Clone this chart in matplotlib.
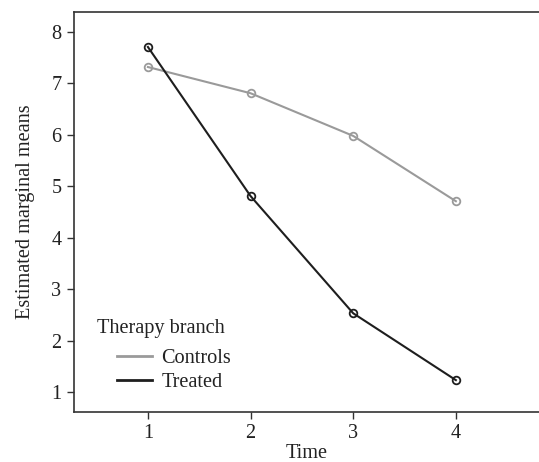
import matplotlib
matplotlib.use('Agg')
import matplotlib.pyplot as plt

# data
time = [1, 2, 3, 4]
controls = [7.32, 6.81, 5.98, 4.71]
treated = [7.71, 4.81, 2.53, 1.23]
yticks = [1, 2, 3, 4, 5, 6, 7, 8]

plt.rcParams['font.family'] = ['Liberation Serif', 'DejaVu Serif']
plt.rcParams['font.size'] = 14.6

fig = plt.figure(figsize=(5.39, 4.62), dpi=100)
ax = fig.add_axes([74 / 539, 50 / 462, 1 - 74 / 539, 400 / 462])

ax.plot(time, controls, color='#9a9a9a', lw=1.5, marker='o', ms=5.5,
        mfc='none', mew=1.3, label='Controls')
ax.plot(time, treated, color='#1e1e1e', lw=1.5, marker='o', ms=5.5,
        mfc='none', mew=1.3, label='Treated')

ax.set_xlim(0.28, 4.81)
ax.set_ylim(0.61, 8.39)
ax.set_xticks(time)
ax.set_yticks(yticks)
ax.spines['right'].set_visible(False)
for s in ['left', 'bottom', 'top']:
    ax.spines[s].set_color('#333333')
    ax.spines[s].set_linewidth(1.2)
ax.tick_params(length=5, width=1, color='#333333', labelcolor='#222222', pad=4)

ax.set_xlabel('Time', color='#222222', labelpad=0)
ax.set_ylabel('Estimated marginal means', color='#222222', labelpad=12)

# legend title drawn separately so the entries sit indented under it
ax.text(23 / 465, 0.2075, 'Therapy branch', transform=ax.transAxes,
        va='center', ha='left', color='#222222')
leg = ax.legend(loc='upper left', frameon=False,
                bbox_to_anchor=(43 / 465, 0.157), handlelength=1.75, handletextpad=0.45,
                labelspacing=0.22, borderpad=0, borderaxespad=0)
for h in leg.legend_handles:
    h.set_marker('')
    h.set_linewidth(2)
for t in leg.get_texts():
    t.set_color('#222222')

fig.savefig('out.png', dpi=100)
